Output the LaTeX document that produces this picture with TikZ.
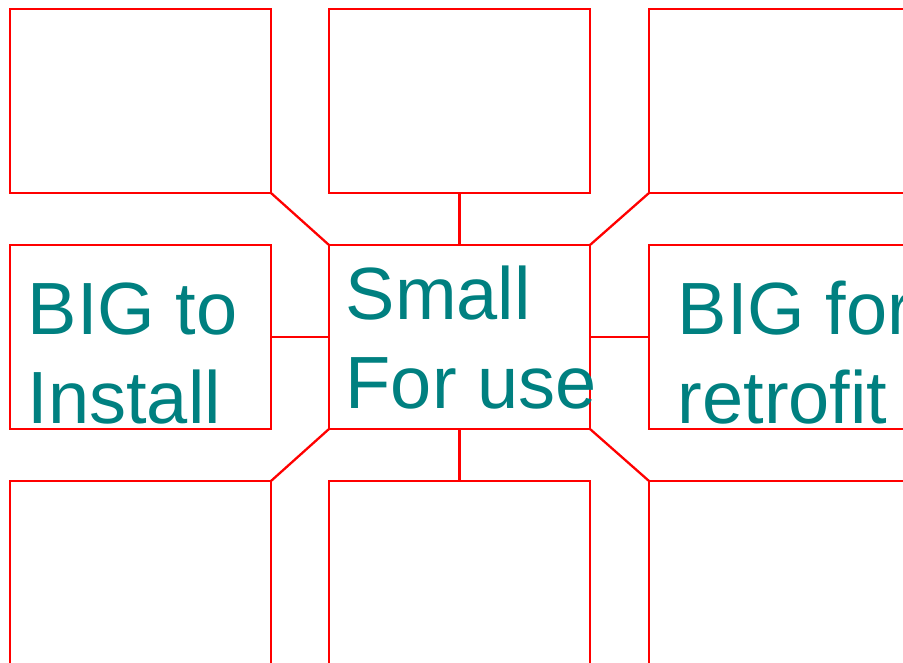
\documentclass[tikz,border=0pt]{standalone}
\usepackage{fontspec}
\setmainfont{Liberation Sans}
\definecolor{boxred}{RGB}{255,0,0}
\definecolor{textteal}{RGB}{0,128,128}
\tikzset{
	box/.style={draw=boxred, line width=2.3pt, minimum width=261pt, minimum height=184pt, inner sep=0pt, outer sep=0pt},
	link/.style={draw=boxred, line width=2.3pt},
	lbl/.style={text=textteal, align=left, inner sep=0pt, anchor=base west, font=\fontsize{74}{89}\selectfont}
}
\begin{document}
\begin{tikzpicture}[x=1pt, y=-1pt, line cap=butt, line join=miter]
			\useasboundingbox (0,0) rectangle (903,663);
			\clip (0,0) rectangle (903,663);
			% grid of boxes
			\node[box] (tl) at (140.5,101) {};
			\node[box] (tc) at (459.5,101) {};
			\node[box] (tr) at (779.5,101) {};
			\node[box] (ml) at (140.5,337) {};
			\node[box] (mc) at (459.5,337) {};
			\node[box] (mr) at (779.5,337) {};
			\node[box] (bl) at (140.5,573) {};
			\node[box] (bc) at (459.5,573) {};
			\node[box] (br) at (779.5,573) {};
			% links to the middle box
			\path[link] (tc.south) -- (mc.north) (bc.north) -- (mc.south) (ml.east) -- (mc.west) (mr.west) -- (mc.east);
			\path[link] (tl.south east) -- (mc.north west) (tr.south west) -- (mc.north east);
			\path[link] (bl.north east) -- (mc.south west) (br.north west) -- (mc.south east);
			% texts (anchor is on the last line)
			\node[lbl] (install) at (27.5,423) {BIG to\\Install};
			\node[lbl] (small) at (345.5,408) {Small\\For use};
			\node[lbl] (retrofit) at (677.5,423) {BIG for\\retrofit};
		\end{tikzpicture}
\end{document}
